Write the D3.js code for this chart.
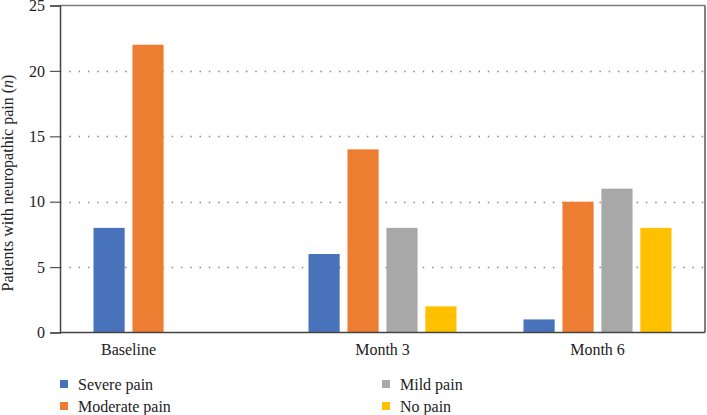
<!DOCTYPE html>
<html><head><meta charset="utf-8">
<script src="https://cdn.jsdelivr.net/npm/d3@7"></script>
<style>body{margin:0;background:#fff}svg{display:block}svg text{font-family:"Liberation Serif","DejaVu Serif","Noto Serif","Times New Roman",Times,serif !important}</style>
</head><body><svg id="c" width="707" height="415"></svg>
<script>
const categories = ["Baseline", "Month 3", "Month 6"];
const seriesNames = ["Severe pain", "Moderate pain", "Mild pain", "No pain"];
const severe = [8, 6, 1];
const moderate = [22, 14, 10];
const mild = [0, 8, 11];
const noPain = [0, 2, 8];
const yTicks = [0, 5, 10, 15, 20, 25];
const colors = ["#4872BA", "#ED7D31", "#A8A8A8", "#FFC000"];

const series = [severe, moderate, mild, noPain];
const svg = d3.select("#c");
const FONT = '"Liberation Serif", "DejaVu Serif", serif';
const L = 60, R = 705, T = 5.5, B = 332.5;

const x0 = d3.scaleBand().domain(categories).range([L, R]).padding(0);
const x1 = d3.scaleBand().domain(seriesNames).range([-74, 74]).paddingInner(0.2).paddingOuter(0);
const y = d3.scaleLinear().domain([0, 25]).range([B, T]);

// gridlines
svg.append("g").selectAll("line").data(yTicks.filter(t => t > 0 && t < 25)).join("line")
  .attr("x1", L).attr("x2", R).attr("y1", d => Math.round(y(d)) + 0.5).attr("y2", d => Math.round(y(d)) + 0.5)
  .attr("stroke", "#8a8a8a").attr("stroke-width", 1.5).attr("stroke-dasharray", "1.5,7.8");

// bars
categories.forEach((c, i) => {
  const cx = x0(c) + x0.bandwidth() / 2;
  seriesNames.forEach((s, j) => {
    const v = series[j][i];
    if (v <= 0) return;
    svg.append("rect")
      .attr("x", cx + x1(s)).attr("width", x1.bandwidth())
      .attr("y", y(v)).attr("height", y(0) - y(v))
      .attr("fill", colors[j]);
  });
});

// border top/right
svg.append("line").attr("x1", L).attr("x2", R).attr("y1", T).attr("y2", T).attr("stroke", "#7a7a7a").attr("stroke-width", 1.5);
svg.append("line").attr("x1", R).attr("x2", R).attr("y1", T).attr("y2", B).attr("stroke", "#555").attr("stroke-width", 1.5);

// y axis
const yAxis = d3.axisLeft(y).tickValues(yTicks).tickSize(10).tickPadding(5);
const gy = svg.append("g").attr("transform", `translate(${L},0)`).call(yAxis);
gy.attr("font-family", FONT).attr("font-size", 16);
gy.select(".domain").attr("stroke", "#444").attr("stroke-width", 1.5);
gy.selectAll(".tick line").attr("stroke", "#555").attr("stroke-width", 1.2);
gy.selectAll("text").attr("fill", "#222");

// bottom axis line
svg.append("line").attr("x1", L).attr("x2", R).attr("y1", B).attr("y2", B).attr("stroke", "#444").attr("stroke-width", 1.5);

// category labels centered under non-zero bars
categories.forEach((c, i) => {
  const cx = x0(c) + x0.bandwidth() / 2;
  const present = seriesNames.filter((s, j) => series[j][i] > 0);
  const lo = cx + x1(present[0]);
  const hi = cx + x1(present[present.length - 1]) + x1.bandwidth();
  svg.append("text").attr("x", (lo + hi) / 2).attr("y", B + 22)
    .attr("text-anchor", "middle").attr("font-family", FONT).attr("font-size", 16).attr("fill", "#222").text(c);
});

// y title
const yt = svg.append("text").attr("transform", "translate(13,183) rotate(-90)")
  .attr("text-anchor", "middle").attr("font-family", FONT).attr("font-size", 16).attr("fill", "#222");
yt.append("tspan").text("Patients with neuropathic pain (");
yt.append("tspan").attr("font-style", "italic").text("n");
yt.append("tspan").text(")");

// legend
const legPos = [[60, 384], [60, 406], [382, 384], [382, 406]];
seriesNames.forEach((s, j) => {
  const [lx, ly] = legPos[j];
  svg.append("rect").attr("x", lx).attr("y", ly - 4).attr("width", 8).attr("height", 8).attr("fill", colors[j]);
  svg.append("text").attr("x", lx + 18).attr("y", ly + 5.5).attr("font-family", FONT).attr("font-size", 16).attr("fill", "#222").text(s);
});
</script></body></html>
